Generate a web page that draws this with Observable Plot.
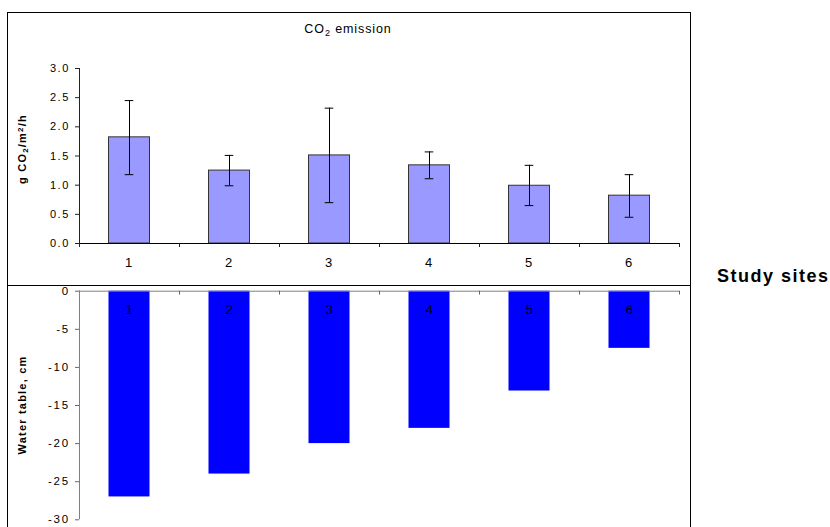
<!DOCTYPE html>
<html>
<head>
<meta charset="utf-8">
<script src="https://cdn.jsdelivr.net/npm/d3@7"></script>
<script src="https://cdn.jsdelivr.net/npm/@observablehq/plot@0.6"></script>
<style>
  html, body { margin: 0; padding: 0; background: white; }
  body { font-family: "Liberation Sans", Arial, sans-serif; }
  #wrap { position: relative; width: 830px; height: 527px; overflow: hidden; background: white; }
  #top, #bottom { position: absolute; left: 0; }
  #top { top: 0; }
  #bottom { top: 285px; }
  .box { position: absolute; left: 7px; top: 12px; width: 682px; height: 600px; border: 1.5px solid black; pointer-events: none; }
  .sep { position: absolute; left: 7px; top: 284.5px; width: 684px; height: 0; border-top: 1.5px solid black; pointer-events: none; }
  .title { position: absolute; left: 348px; top: 22px; transform: translateX(-50%); font-size: 12.5px; letter-spacing: 0.9px; white-space: nowrap; }
  .title sub { font-size: 9px; vertical-align: -3px; line-height: 0; }
  .ylab { position: absolute; font-size: 11px; font-weight: bold; letter-spacing: 1.2px; white-space: nowrap; transform: translate(-50%, -50%) rotate(-90deg); }
  .ylab sub { font-size: 8px; vertical-align: -2px; line-height: 0; }
  .ylab sup { font-size: 8px; vertical-align: 3px; line-height: 0; }
  .sites { position: absolute; left: 717px; top: 266px; font-size: 18px; font-weight: bold; letter-spacing: 1.5px; white-space: nowrap; }
</style>
</head>
<body>
<div id="wrap">
  <div id="top"></div>
  <div id="bottom"></div>
  <div class="box"></div>
  <div class="sep"></div>
  <div class="title">CO<sub>2</sub> emission</div>
  <div class="ylab" style="left:22px; top:149px;">g CO<sub>2</sub>/m<sup>2</sup>/h</div>
  <div class="ylab" style="left:22px; top:405px;">Water table, cm</div>
  <div class="sites">Study sites</div>
</div>
<script>
// ---- data ----
const sites = [1, 2, 3, 4, 5, 6];
const co2Mean = [1.82, 1.25, 1.51, 1.34, 0.99, 0.82];
const co2Low  = [1.18, 0.99, 0.70, 1.11, 0.65, 0.45];
const co2High = [2.45, 1.51, 2.32, 1.57, 1.34, 1.18];
const waterTable = [-27, -24, -20, -18, -13.1, -7.5];
const co2Ticks = [0, 0.5, 1.0, 1.5, 2.0, 2.5, 3.0];
const waterTicks = [0, -5, -10, -15, -20, -25, -30];
const siteEdges = [0.5, 1.5, 2.5, 3.5, 4.5, 5.5, 6.5];

const co2 = sites.map((s, i) => ({site: s, mean: co2Mean[i], low: co2Low[i], high: co2High[i]}));
const water = sites.map((s, i) => ({site: s, depth: waterTable[i]}));

const halfBar = 0.205;
const halfCap = 0.043;
const font = '"Liberation Sans", Arial, sans-serif';

const topPlot = Plot.plot({
  width: 692,
  height: 285,
  marginLeft: 79,
  marginRight: 13,
  marginTop: 68,
  marginBottom: 42,
  style: {fontFamily: font, fontSize: "11px", letterSpacing: "1.6px", color: "black", background: "transparent", overflow: "visible"},
  x: {domain: [0.5, 6.5]},
  y: {domain: [0, 3]},
  marks: [
    Plot.rectY(co2, {x1: d => d.site - halfBar, x2: d => d.site + halfBar, y1: 0, y2: "mean", fill: "#9999ff", stroke: "#333", strokeWidth: 1}),
    Plot.ruleX(co2, {x: "site", y1: "low", y2: "high", stroke: "black", strokeWidth: 1}),
    Plot.ruleY(co2, {y: "low", x1: d => d.site - halfCap, x2: d => d.site + halfCap, stroke: "black", strokeWidth: 1}),
    Plot.ruleY(co2, {y: "high", x1: d => d.site - halfCap, x2: d => d.site + halfCap, stroke: "black", strokeWidth: 1}),
    Plot.ruleY([0], {stroke: "black", strokeWidth: 1}),
    Plot.ruleX([0.5], {y1: 0, y2: 3, stroke: "#222", strokeWidth: 1}),
    Plot.axisY({ticks: co2Ticks, tickFormat: d3.format(".1f"), tickSize: 4, tickPadding: 5.5, label: null, stroke: "#222", fill: "black"}),
    Plot.axisX({ticks: siteEdges, tickFormat: () => "", tickSize: 4, label: null, stroke: "#222"}),
    Plot.axisX({ticks: sites, tickFormat: d => String(d), tickSize: 0, tickPadding: 14, label: null, fill: "black", fontSize: 13})
  ]
});
document.getElementById("top").appendChild(topPlot);

const bottomPlot = Plot.plot({
  width: 692,
  height: 242,
  marginLeft: 79,
  marginRight: 13,
  marginTop: 5.7,
  marginBottom: 7.7,
  style: {fontFamily: font, fontSize: "11.5px", letterSpacing: "1.8px", color: "black", background: "transparent", overflow: "visible"},
  x: {domain: [0.5, 6.5], axis: null},
  y: {domain: [-30, 0]},
  marks: [
    Plot.rectY(water, {x1: d => d.site - halfBar, x2: d => d.site + halfBar, y1: 0, y2: "depth", fill: "#0000ff"}),
    Plot.ruleY([0], {stroke: "#808080", strokeWidth: 1}),
    Plot.ruleX(siteEdges, {x: d => d, y1: 0, y2: -0.5, stroke: "#666", strokeWidth: 1}),
    Plot.ruleX([0.5], {y1: -30, y2: 0, stroke: "#808080", strokeWidth: 1}),
    Plot.axisY({ticks: waterTicks, tickFormat: d => String(d), tickSize: 4, tickPadding: 5.5, label: null, stroke: "#666", fill: "black"}),
    Plot.text(water, {x: "site", y: () => 0, text: d => String(d.site), dy: 14, dx: 0.8, lineAnchor: "top", fill: "black", fontSize: 13})
  ]
});
document.getElementById("bottom").appendChild(bottomPlot);
</script>
</body>
</html>
